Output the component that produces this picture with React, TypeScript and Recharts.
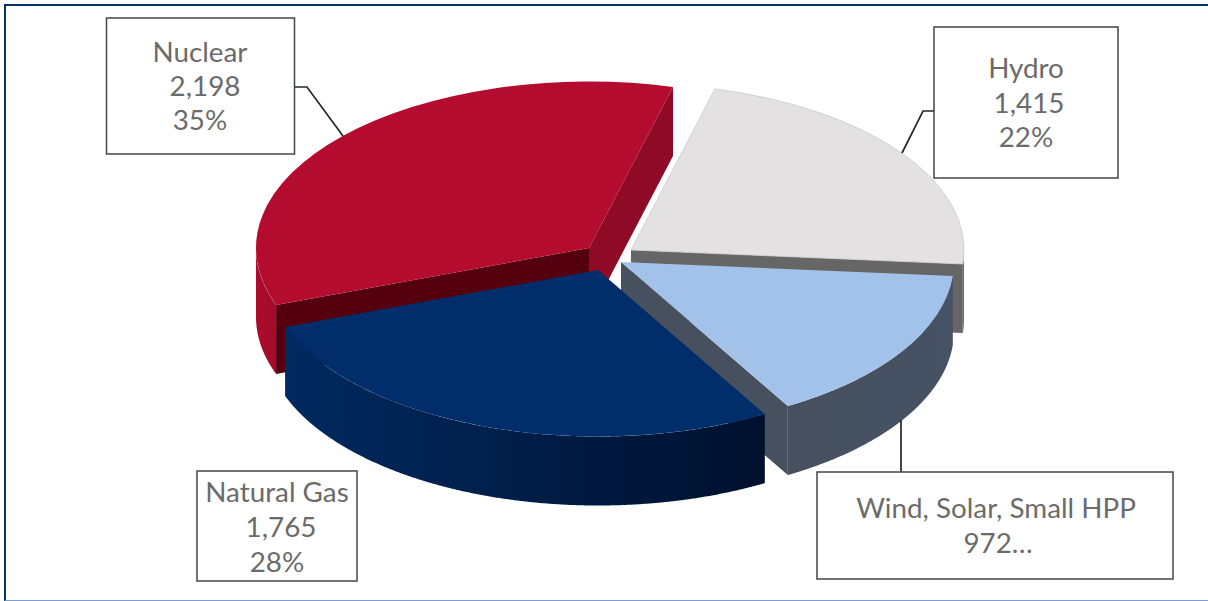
import React from 'react';
import { PieChart, Pie } from 'recharts';

const categories = ['Nuclear', 'Hydro', 'Wind, Solar, Small HPP', 'Natural Gas'];
const capacityValues = [2198, 1415, 972, 1765];

const chartData = categories.map((name, i) => ({ name, value: capacityValues[i] }));

const CHART_WIDTH = 1208;
const CHART_HEIGHT = 601;
const TILT = 0.5;
const DEPTH = 69;
const LABEL_FONT = 'Lato, sans-serif';

// pulled-out offset and face colours of each wedge, same order as categories
const wedgeStyles = [
  { dx: -9, dy: -22, top: '#b40c2e', wallFrom: '#ab0b2d', wallTo: '#a50b2b', startFace: '#55000f', endFace: '#8f0a26', edge: 'none' },
  { dx: 33, dy: -20, top: '#e3e1e1', wallFrom: '#6a6a6a', wallTo: '#6a6a6a', startFace: '#6a6a6a', endFace: '#666666', edge: '#c9c9c9' },
  { dx: 23, dy: -8, top: '#a3c2e9', wallFrom: '#46505e', wallTo: '#465265', startFace: '#47505e', endFace: '#47505e', edge: 'none' },
  { dx: 0, dy: 0, top: '#012e6b', wallFrom: '#012a60', wallTo: '#00102e', startFace: '#012a60', endFace: '#00102e', edge: 'none' },
];

// callout box, leader line and text placement, same order as categories
const callouts = [
  { box: [106.5, 18, 188, 136], leader: '295,87 307,87 343,136', textX: 200, baseline: 62, step: 34, shift: 5 },
  { box: [934, 27, 184, 151], leader: '934,111 923,111 902,153', textX: 1026, baseline: 78, step: 34.5, shift: 3 },
  { box: [817, 472, 356, 107], leader: '901,420 901,472', textX: 996, baseline: 518, step: 35, shift: 2 },
  { box: [197, 471, 160, 110], leader: null, textX: 277, baseline: 502, step: 35, shift: 4 },
];

const rad = (deg: number) => (deg * Math.PI) / 180;

function Wedge3D(props: any) {
  const { cx, cy, outerRadius, startAngle, endAngle, index } = props;
  const style = wedgeStyles[index];
  const ox = cx + style.dx;
  const oy = cy + style.dy;
  const rx = outerRadius;
  const ry = outerRadius * TILT;
  const at = (angle: number) => [ox + rx * Math.cos(rad(angle)), oy - ry * Math.sin(rad(angle))];
  const [sx, sy] = at(startAngle);
  const [ex, ey] = at(endAngle);
  const large = Math.abs(endAngle - startAngle) > 180 ? 1 : 0;

  // only the part of the rim on the near half of the ellipse is visible
  const rim: number[][] = [];
  for (let a = startAngle; a >= endAngle; a -= 0.25) {
    if (Math.sin(rad(a)) <= 0) rim.push(at(a));
  }
  if (Math.sin(rad(endAngle)) <= 0) rim.push([ex, ey]);
  const rimPath = rim.length
    ? rim.map((p, i) => `${i ? 'L' : 'M'}${p[0]} ${p[1]}`).join(' ') +
      ' ' +
      [...rim].reverse().map((p) => `L${p[0]} ${p[1] + DEPTH}`).join(' ') +
      ' Z'
    : null;

  const gradId = `rim-${index}`;
  return (
    <g>
      <defs>
        <linearGradient id={gradId} x1="0" y1="0" x2="1" y2="0">
          <stop offset="0%" stopColor={style.wallFrom} />
          <stop offset="100%" stopColor={style.wallTo} />
        </linearGradient>
      </defs>
      {Math.cos(rad(startAngle)) < 0 && (
        <path d={`M${ox} ${oy} L${sx} ${sy} L${sx} ${sy + DEPTH} L${ox} ${oy + DEPTH} Z`} fill={style.startFace} />
      )}
      {Math.cos(rad(endAngle)) > 0 && (
        <path d={`M${ox} ${oy} L${ex} ${ey} L${ex} ${ey + DEPTH} L${ox} ${oy + DEPTH} Z`} fill={style.endFace} />
      )}
      {rimPath && <path d={rimPath} fill={`url(#${gradId})`} />}
      <path
        d={`M${ox} ${oy} L${sx} ${sy} A${rx} ${ry} 0 ${large} 1 ${ex} ${ey} Z`}
        fill={style.top}
        stroke={style.edge}
        strokeWidth={style.edge === 'none' ? 0 : 0.8}
      />
    </g>
  );
}

function Callout(props: any) {
  const { index, value, percent, name } = props;
  const c = callouts[index];
  const amount = value.toLocaleString('en-US');
  // the wind box is too short for its last line, so the text gets cut off
  const lines = index === 2 ? [name, `${amount}…`] : [name, amount, `${Math.round(percent * 100)}%`];
  return (
    <g>
      {c.leader && <polyline points={c.leader} fill="none" stroke="#232826" strokeWidth={1.7} />}
      <rect x={c.box[0]} y={c.box[1]} width={c.box[2]} height={c.box[3]} fill="#fff" stroke="#444644" strokeWidth={1.5} />
      {lines.map((line: string, i: number) => (
        <text
          key={i}
          x={c.textX + (i === 1 ? c.shift : 0)}
          y={c.baseline + i * c.step}
          textAnchor="middle"
          fontFamily={LABEL_FONT}
          fontSize={27.8}
          fill="#6b6b69"
        >
          {line}
        </text>
      ))}
    </g>
  );
}

export default function App() {
  return (
    <div style={{ position: 'absolute', left: 0, top: 0, width: CHART_WIDTH, height: CHART_HEIGHT, overflow: 'hidden', background: '#fff' }}>
      <div
        style={{
          position: 'absolute',
          left: 4,
          top: 4,
          right: 0,
          bottom: 0,
          borderTop: '2px solid #00336f',
          borderLeft: '2px solid #00336f',
          borderBottom: '1.5px solid #7f9ec9',
        }}
      />
      <div style={{ position: 'absolute', left: 0, top: 0 }}>
        <PieChart width={CHART_WIDTH} height={CHART_HEIGHT} margin={{ top: 0, right: 0, bottom: 0, left: 0 }}>
          <Pie
            data={chartData}
            dataKey="value"
            nameKey="name"
            cx={598}
            cy={270}
            innerRadius={0}
            outerRadius={333}
            startAngle={-160}
            endAngle={-520}
            paddingAngle={0}
            stroke="none"
            shape={Wedge3D}
            label={Callout}
            labelLine={false}
            isAnimationActive={false}
          />
        </PieChart>
      </div>
    </div>
  );
}
